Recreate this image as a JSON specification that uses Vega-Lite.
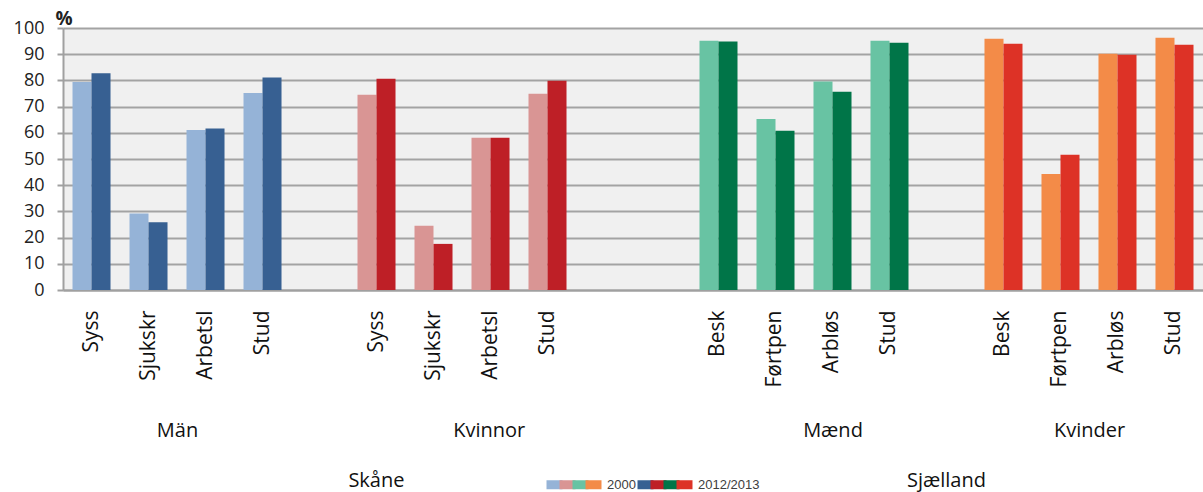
{
  "$schema": "https://vega.github.io/schema/vega-lite/v6.json",
  "autosize": {"type": "none"},
  "padding": {"left": 63, "top": 28, "right": 0, "bottom": 202},
  "width": 1140,
  "height": 262,
  "background": "white",
  "config": {
    "font": "Open Sans",
    "view": {"fill": "#F0F0F0", "stroke": null}
  },
  "resolve": {"scale": {"x": "independent"}, "axis": {"x": "independent"}},
  "layer": [
    {
      "data": {
        "values": [
          {"group": "Män", "cat": "Syss", "year": "2000", "value": 79.4},
          {"group": "Män", "cat": "Syss", "year": "2012/2013", "value": 82.7},
          {"group": "Män", "cat": "Sjukskr", "year": "2000", "value": 29.2},
          {"group": "Män", "cat": "Sjukskr", "year": "2012/2013", "value": 25.9},
          {"group": "Män", "cat": "Arbetsl", "year": "2000", "value": 61.1},
          {"group": "Män", "cat": "Arbetsl", "year": "2012/2013", "value": 61.6},
          {"group": "Män", "cat": "Stud", "year": "2000", "value": 75.2},
          {"group": "Män", "cat": "Stud", "year": "2012/2013", "value": 81.1},
          {"group": "Kvinnor", "cat": "Syss", "year": "2000", "value": 74.5},
          {"group": "Kvinnor", "cat": "Syss", "year": "2012/2013", "value": 80.6},
          {"group": "Kvinnor", "cat": "Sjukskr", "year": "2000", "value": 24.5},
          {"group": "Kvinnor", "cat": "Sjukskr", "year": "2012/2013", "value": 17.6},
          {"group": "Kvinnor", "cat": "Arbetsl", "year": "2000", "value": 58.1},
          {"group": "Kvinnor", "cat": "Arbetsl", "year": "2012/2013", "value": 58.1},
          {"group": "Kvinnor", "cat": "Stud", "year": "2000", "value": 74.9},
          {"group": "Kvinnor", "cat": "Stud", "year": "2012/2013", "value": 79.9},
          {"group": "Mænd", "cat": "Besk", "year": "2000", "value": 95.1},
          {"group": "Mænd", "cat": "Besk", "year": "2012/2013", "value": 94.8},
          {"group": "Mænd", "cat": "Førtpen", "year": "2000", "value": 65.3},
          {"group": "Mænd", "cat": "Førtpen", "year": "2012/2013", "value": 60.8},
          {"group": "Mænd", "cat": "Arbløs", "year": "2000", "value": 79.6},
          {"group": "Mænd", "cat": "Arbløs", "year": "2012/2013", "value": 75.7},
          {"group": "Mænd", "cat": "Stud", "year": "2000", "value": 95.1},
          {"group": "Mænd", "cat": "Stud", "year": "2012/2013", "value": 94.4},
          {"group": "Kvinder", "cat": "Besk", "year": "2000", "value": 95.9},
          {"group": "Kvinder", "cat": "Besk", "year": "2012/2013", "value": 94.0},
          {"group": "Kvinder", "cat": "Førtpen", "year": "2000", "value": 44.3},
          {"group": "Kvinder", "cat": "Førtpen", "year": "2012/2013", "value": 51.6},
          {"group": "Kvinder", "cat": "Arbløs", "year": "2000", "value": 90.2},
          {"group": "Kvinder", "cat": "Arbløs", "year": "2012/2013", "value": 89.8},
          {"group": "Kvinder", "cat": "Stud", "year": "2000", "value": 96.3},
          {"group": "Kvinder", "cat": "Stud", "year": "2012/2013", "value": 93.6}
        ]
      },
      "transform": [
        {"calculate": "datum.group + '|' + datum.cat", "as": "slot"},
        {"calculate": "datum.group + ' ' + datum.year", "as": "series"}
      ],
      "mark": {"type": "bar"},
      "encoding": {
        "x": {
          "field": "slot",
          "type": "nominal",
          "sort": null,
          "scale": {
            "domain": ["Män|Syss", "Män|Sjukskr", "Män|Arbetsl", "Män|Stud", "g1",
                       "Kvinnor|Syss", "Kvinnor|Sjukskr", "Kvinnor|Arbetsl", "Kvinnor|Stud", "g2", "g3",
                       "Mænd|Besk", "Mænd|Førtpen", "Mænd|Arbløs", "Mænd|Stud", "g4",
                       "Kvinder|Besk", "Kvinder|Førtpen", "Kvinder|Arbløs", "Kvinder|Stud"],
            "paddingInner": 0.333,
            "paddingOuter": 0.1667
          },
          "axis": {
            "title": null,
            "labelExpr": "indexof(datum.value, '|') >= 0 ? split(datum.value, '|')[1] : ''",
            "labelAngle": -90,
            "labelAlign": "right",
            "labelBaseline": "middle",
            "labelFont": "Open Sans",
            "labelFontSize": 21,
            "labelColor": "#111111",
            "labelPadding": 20,
            "ticks": false,
            "domainColor": "#A0A0A0",
            "domainWidth": 2,
            "grid": false
          }
        },
        "xOffset": {"field": "year", "type": "nominal", "scale": {"paddingInner": 0}},
        "y": {
          "field": "value",
          "type": "quantitative",
          "scale": {"domain": [0, 100], "nice": false},
          "axis": {
            "title": "%",
            "titleAngle": 0,
            "titleAlign": "left",
            "titleBaseline": "middle",
            "titleX": -8,
            "titleY": -10,
            "titleFont": "Open Sans",
            "titleFontSize": 19,
            "titleFontWeight": "bold",
            "titleColor": "#222222",
            "values": [0, 10, 20, 30, 40, 50, 60, 70, 80, 90, 100],
            "labelFont": "Open Sans",
            "labelFontSize": 18,
            "labelColor": "#222222",
            "labelPadding": 13,
            "tickSize": 6,
            "tickColor": "#A0A0A0",
            "tickWidth": 2,
            "domainColor": "#A0A0A0",
            "domainWidth": 2,
            "grid": true,
            "gridColor": "#A3A3A3",
            "gridWidth": 2
          }
        },
        "color": {
          "field": "series",
          "type": "nominal",
          "scale": {
            "domain": ["Män 2000", "Kvinnor 2000", "Mænd 2000", "Kvinder 2000",
                       "Män 2012/2013", "Kvinnor 2012/2013", "Mænd 2012/2013", "Kvinder 2012/2013"],
            "range": ["#95B3D7", "#D99594", "#68C3A3", "#F38B48",
                      "#376092", "#BE1F26", "#007548", "#DD3226"]
          },
          "legend": {
            "title": null,
            "orient": "none",
            "legendX": 492,
            "legendY": 450,
            "direction": "horizontal",
            "columns": 8,
            "padding": 0,
            "columnPadding": -12,
            "symbolType": "M-3,-0.9H0.2V0.9H-3Z",
            "symbolSize": 100,
            "symbolStrokeWidth": 0,
            "symbolOpacity": 1,
            "labelOffset": 0,
            "labelFont": "Liberation Sans",
            "labelFontSize": 13,
            "labelColor": "#404040",
            "labelExpr": "datum.label == 'Kvinder 2000' ? '\u00a0\u00a0\u00a0\u00a02000\u2800' : datum.label == 'Kvinder 2012/2013' ? '\u00a0\u00a0\u00a0\u00a02012/2013' : ''"
          }
        }
      }
    },
    {
      "data": {"values": [{}]},
      "mark": {"type": "rule", "opacity": 0},
      "encoding": {
        "x": {
          "datum": 0,
          "type": "quantitative",
          "scale": {"domain": [0, 20], "nice": false, "zero": false},
          "axis": {
            "orient": "bottom",
            "title": null,
            "values": [2, 7.47, 13.5, 18],
            "labelExpr": "datum.value == 2 ? 'Män' : datum.value == 7.47 ? 'Kvinnor' : datum.value == 13.5 ? 'Mænd' : 'Kvinder'",
            "labelFont": "Open Sans",
            "labelFontSize": 20,
            "labelColor": "#111111",
            "labelBaseline": "middle",
            "labelAlign": "center",
            "labelPadding": 140,
            "labelOverlap": false,
            "labelBound": false,
            "labelFlush": false,
            "ticks": false,
            "domain": false,
            "grid": false
          }
        }
      }
    },
    {
      "data": {"values": [{}]},
      "mark": {"type": "rule", "opacity": 0},
      "encoding": {
        "x": {
          "datum": 0,
          "type": "quantitative",
          "scale": {"domain": [0, 20], "nice": false, "zero": false},
          "axis": {
            "orient": "bottom",
            "title": null,
            "values": [5.49, 15.49],
            "labelExpr": "datum.value < 10 ? 'Skåne' : 'Sjælland'",
            "labelFont": "Open Sans",
            "labelFontSize": 20,
            "labelColor": "#111111",
            "labelBaseline": "middle",
            "labelAlign": "center",
            "labelPadding": 190,
            "labelOverlap": false,
            "labelBound": false,
            "labelFlush": false,
            "ticks": false,
            "domain": false,
            "grid": false
          }
        }
      }
    }
  ]
}
